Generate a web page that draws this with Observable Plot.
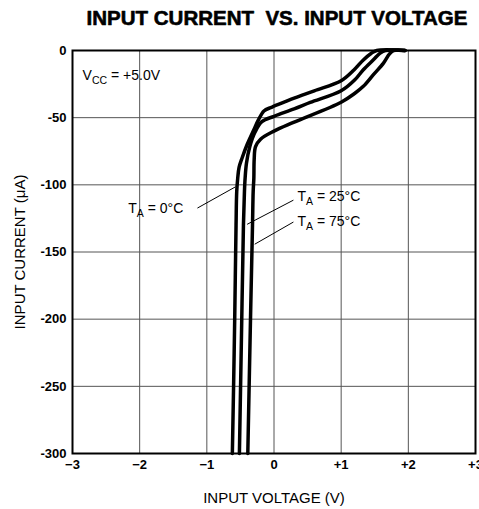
<!DOCTYPE html>
<html>
<head>
<meta charset="utf-8">
<script src="https://cdn.jsdelivr.net/npm/d3@7"></script>
<script src="https://cdn.jsdelivr.net/npm/@observablehq/plot@0.6"></script>
<style>
  html, body { margin: 0; padding: 0; background: #fff; }
</style>
</head>
<body>
<div id="chart"></div>
<script>
// ---- data ----
const title = "INPUT CURRENT  VS. INPUT VOLTAGE";
const xLabel = "INPUT VOLTAGE (V)";
const yLabel = "INPUT CURRENT (\u03BCA)";
const xTicks = [-3, -2, -1, 0, 1, 2, 3];
const xTickLabels = ["\u22123", "\u22122", "\u22121", "0", "+1", "+2", "+3"];
const yTicks = [0, -50, -100, -150, -200, -250, -300];
const yTickLabels = ["0", "-50", "-100", "-150", "-200", "-250", "-300"];

const series = ["T_A = 0\u00B0C", "T_A = 25\u00B0C", "T_A = 75\u00B0C"];
// voltage (V) and current (uA) per series
const v0  = [-0.62,-0.60,-0.585,-0.565,-0.555,-0.54,-0.52,-0.475,-0.40,-0.30,-0.23,-0.15,-0.05,0.0,0.3,0.6,1.0,1.19,1.33,1.45,1.53,1.95];
const i0  = [-300,-245,-200,-130,-105,-95,-87,-80,-70,-59,-51.5,-45,-42.5,-41.5,-35.5,-30,-22.5,-14.5,-7,-2,0,0];
const v25 = [-0.515,-0.48,-0.455,-0.44,-0.43,-0.41,-0.36,-0.28,-0.18,0.0,0.3,0.54,1.0,1.2,1.33,1.48,1.58,1.66,1.95];
const i25 = [-300,-200,-130,-105,-95,-84,-71.5,-60.5,-53,-49,-43.5,-38.7,-30,-22,-14.3,-6.9,-2,0,0];
const v75 = [-0.39,-0.35,-0.32,-0.31,-0.30,-0.295,-0.275,-0.2,0.0,0.29,1.0,1.2,1.33,1.48,1.63,1.72,1.78,1.95];
const i75 = [-300,-200,-130,-105,-95,-81,-71.5,-66,-60,-53.5,-38.5,-32,-26.7,-18,-9.4,-2.5,0,0];

const vccText = "V_CC = +5.0V";
const vccX = -2.85, vccY = -18.5;
// label anchors (data units) and leader lines
const labelX = [-2.17, 0.35, 0.35];
const labelY = [-118, -109, -127];
const leadX1 = [-1.14, 0.289, 0.289];
const leadY1 = [-117.3, -111.4, -127.7];
const leadX2 = [-0.574, -0.40, -0.287];
const leadY2 = [-101.5, -129.4, -144.2];

// ---- build tables ----
const curves = [];
[[v0, i0], [v25, i25], [v75, i75]].forEach(([vs, is], k) => {
  vs.forEach((v, j) => curves.push({series: series[k], v, i: is[j]}));
});
const labels = series.map((s, k) => ({text: s, x: labelX[k], y: labelY[k]}));
labels.push({text: vccText, x: vccX, y: vccY});
const leaders = series.map((s, k) => ({x1: leadX1[k], y1: leadY1[k], x2: leadX2[k], y2: leadY2[k]}));

const font = "'Liberation Sans', Arial, Helvetica, sans-serif";

const svg = Plot.plot({
  width: 479,
  height: 509,
  marginLeft: 72,
  marginRight: 4,
  marginTop: 50,
  marginBottom: 56,
  style: {fontFamily: font, fontSize: "13px", background: "white", color: "black"},
  x: {domain: [-3, 3], label: null},
  y: {domain: [-300, 0], label: null},
  marks: [
    Plot.ruleX(xTicks.slice(1, -1), {stroke: "#555", strokeWidth: 1}),
    Plot.ruleY(yTicks.slice(1, -1), {stroke: "#555", strokeWidth: 1}),
    Plot.axisX({ticks: xTicks, tickFormat: (d) => xTickLabels[xTicks.indexOf(d)], tickSize: 0, tickPadding: 6, fontWeight: "bold", fontSize: 13}),
    Plot.axisY({ticks: yTicks, tickFormat: (d) => yTickLabels[yTicks.indexOf(d)], tickSize: 0, tickPadding: 6, fontWeight: "bold", fontSize: 13}),
    Plot.line(curves, {x: "v", y: "i", z: "series", stroke: "black", strokeWidth: 3.5, curve: "catmull-rom"}),
    Plot.frame({stroke: "black", strokeWidth: 2}),
    Plot.link(leaders, {x1: "x1", y1: "y1", x2: "x2", y2: "y2", stroke: "black", strokeWidth: 1}),
    Plot.text(labels, {x: "x", y: "y", text: "text", textAnchor: "start", fontSize: 14}),
    Plot.text([title], {frameAnchor: "top", lineAnchor: "middle", text: (d) => d, dy: -32, dx: 3, fontSize: 20.5, fontWeight: "bold", fill: "black", stroke: "black", strokeWidth: 0.6, letterSpacing: "0.55px"}),
    Plot.text([xLabel], {frameAnchor: "bottom", lineAnchor: "middle", text: (d) => d, dy: 45, fontSize: 15}),
    Plot.text([yLabel], {frameAnchor: "left", text: (d) => d, dx: -52, rotate: -90, textAnchor: "middle", fontSize: 15})
  ]
});

// subscripts for T_A and V_CC
d3.select(svg).selectAll("text").each(function () {
  const t = d3.select(this);
  if (this.querySelector("tspan")) return;
  const s = t.text();
  const m = s.match(/^(.)_(\w+)(.*)$/);
  if (!m) return;
  t.text(null);
  t.append("tspan").text(m[1]);
  t.append("tspan").attr("dy", 4).attr("font-size", "10.5px").text(m[2]);
  t.append("tspan").attr("dy", -4).text(m[3]);
});

document.getElementById("chart").appendChild(svg);
</script>
</body>
</html>
